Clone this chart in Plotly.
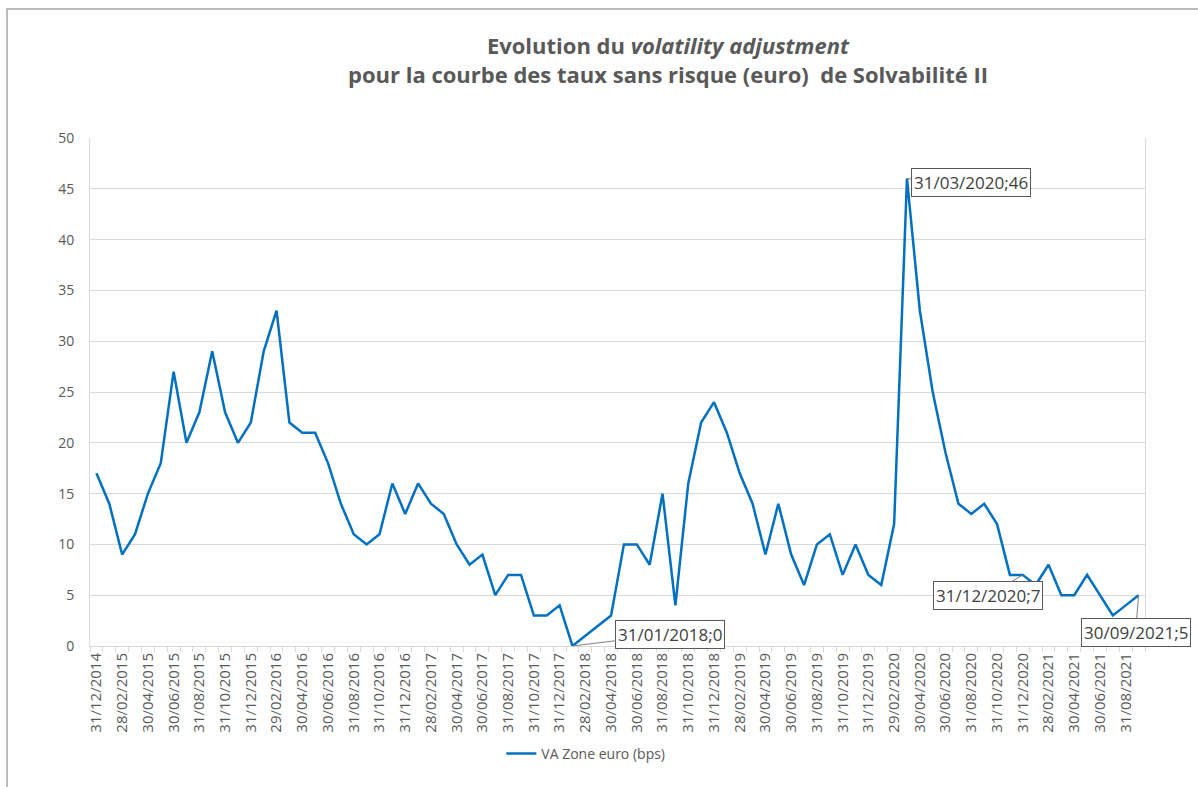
import pandas as pd
import plotly.graph_objects as go

# Month-end dates (categories)
dates = [d.strftime("%d/%m/%Y") for d in pd.date_range("2014-12-31", periods=82, freq="ME")]

# VA Zone euro (bps)
va_values = [17, 14, 9, 11, 15, 18, 27, 20, 23, 29, 23, 20, 22, 29, 33, 22, 21, 21, 18, 14,
             11, 10, 11, 16, 13, 16, 14, 13, 10, 8, 9, 5, 7, 7, 3, 3, 4, 0, 1, 2,
             3, 10, 10, 8, 15, 4, 16, 22, 24, 21, 17, 14, 9, 14, 9, 6, 10, 11, 7, 10,
             7, 6, 12, 46, 33, 25, 19, 14, 13, 14, 12, 7, 7, 6, 8, 5, 5, 7, 5, 3,
             4, 5]

series_name = "VA Zone euro (bps)"
labelled_dates = ["31/01/2018", "31/03/2020", "31/12/2020", "30/09/2021"]
label_offsets = [(98, -12), (64, 4), (-35, 21), (-3, 37)]

y_ticks = list(range(0, 51, 5))

positions = list(range(len(dates)))
tick_positions = positions[::2]
tick_text = dates[::2]

GRID = "#d9d9d9"
TXT = "#595959"
FONT = "Open Sans, Segoe UI, sans-serif"

fig = go.Figure()
fig.add_trace(go.Scatter(
    x=positions, y=va_values, mode="lines", name=series_name,
    line=dict(color="#0070C0", width=2.5),
    customdata=dates, hovertemplate="%{customdata}: %{y}<extra></extra>",
))

annotations = []
for d, (ax, ay) in zip(labelled_dates, label_offsets):
    i = dates.index(d)
    annotations.append(dict(
        x=positions[i], y=va_values[i], xref="x", yref="y",
        text=f"{d};{va_values[i]}", showarrow=True, arrowhead=0, arrowwidth=1,
        arrowcolor="#7f7f7f", ax=ax, ay=ay,
        font=dict(family=FONT, size=17, color="#404040"),
        bgcolor="white", bordercolor="#595959", borderwidth=1, borderpad=2,
    ))

fig.update_layout(
    width=1198, height=787,
    margin=dict(l=90, r=53, t=138, b=141),
    paper_bgcolor="white", plot_bgcolor="white",
    title=dict(
        text="Evolution du <i>volatility adjustment</i><br>pour la courbe des taux sans risque (euro)  de Solvabilité II",
        x=668 / 1198, xanchor="center", y=1 - 54 / 787, yanchor="middle",
        font=dict(family="Open Sans, sans-serif", size=22, color=TXT, weight="bold"),
    ),
    showlegend=True,
    legend=dict(orientation="h", x=0.47, xanchor="center", y=-0.2126, yanchor="middle",
                font=dict(family=FONT, size=14, color=TXT)),
    annotations=annotations,
    shapes=[dict(type="rect", xref="paper", yref="paper",
                 x0=(7 - 90) / 1055, x1=1.3, y0=-0.5, y1=(646 - 9) / 508,
                 line=dict(color="#a6a6a6", width=1.5), fillcolor="rgba(0,0,0,0)", layer="below")],
)

fig.update_xaxes(
    range=[-0.5, len(dates) - 0.5], tickmode="array", tickvals=tick_positions, ticktext=tick_text,
    tickangle=-90, ticks="", showgrid=False, zeroline=False,
    showline=True, linecolor=GRID, linewidth=1,
    tickfont=dict(family=FONT, size=15, color=TXT),
    minor=dict(tickmode="linear", tick0=0.5, dtick=1, ticks="outside", ticklen=5,
               tickcolor=GRID, tickwidth=1, showgrid=False),
)
fig.update_yaxes(
    range=[0, 50], tickmode="array", tickvals=y_ticks, ticks="", showgrid=True,
    gridcolor=GRID, gridwidth=1, zeroline=False,
    showline=True, mirror=True, linecolor=GRID, linewidth=1,
    tickfont=dict(family=FONT, size=14, color=TXT), ticklabelstandoff=12,
)

fig.write_html("out.html", config={"displayModeBar": False},
               post_script="document.body.style.margin='0';")
